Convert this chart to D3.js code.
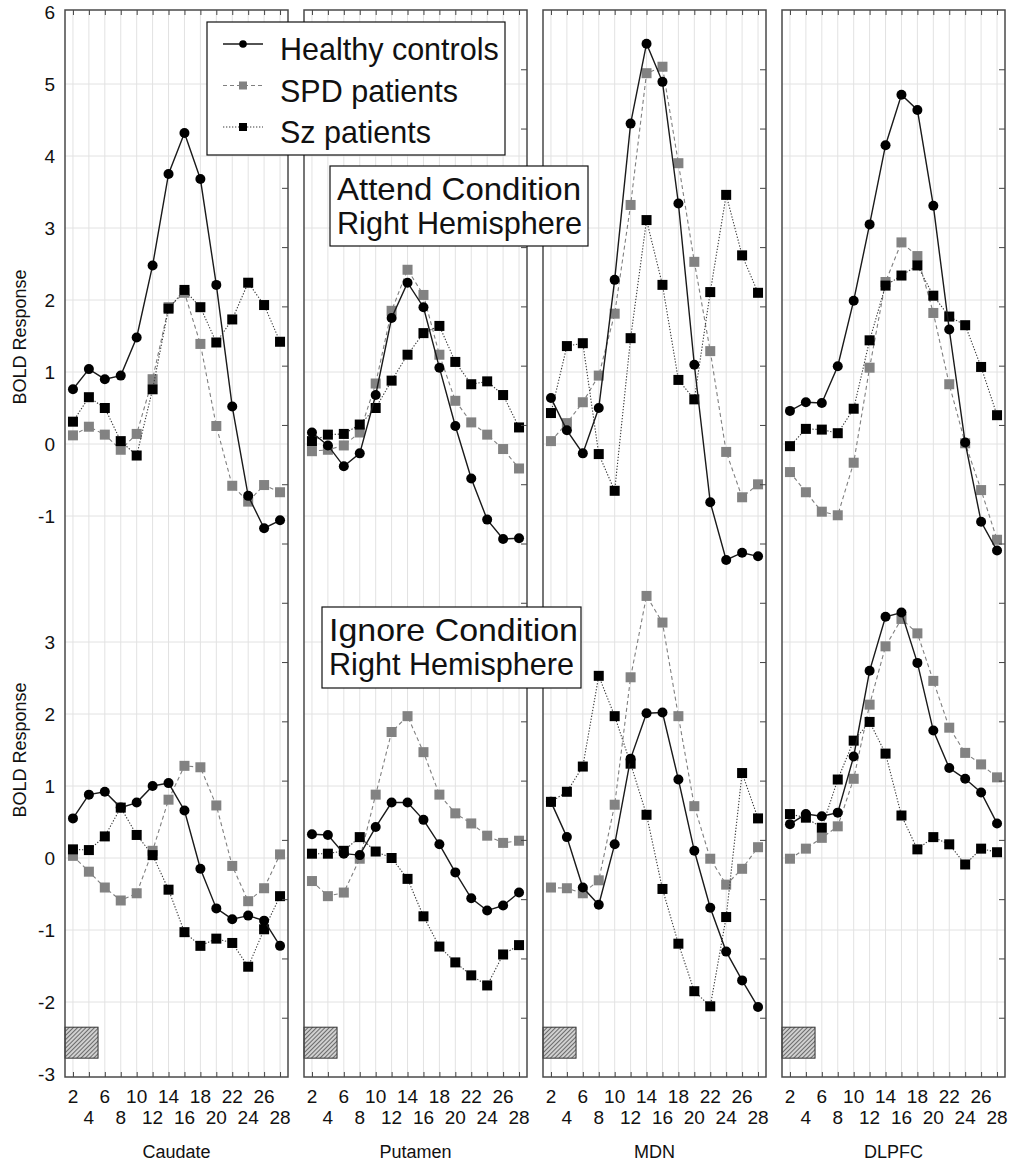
<!DOCTYPE html>
<html>
<head>
<meta charset="utf-8">
<script src="https://cdn.jsdelivr.net/npm/d3@7"></script>
<style>
  body { margin: 0; background: #fff; }
  text { font-family: "Liberation Sans", Arial, sans-serif; fill: #111; }
</style>
</head>
<body>
<script>
// tempos (s) e regiões
const tempos = [2, 4, 6, 8, 10, 12, 14, 16, 18, 20, 22, 24, 26, 28]
const regioes = ['Caudate', 'Putamen', 'MDN', 'DLPFC']
const grupos = ['Healthy controls', 'SPD patients', 'Sz patients']
const ticksTopo = [-1, 0, 1, 2, 3, 4, 5, 6]
const ticksBase = [-3, -2, -1, 0, 1, 2, 3]
const rotuloLinha1 = [2, 6, 10, 14, 18, 22, 26]
const rotuloLinha2 = [4, 8, 12, 16, 20, 24, 28]

// Attend condition
const caudateAttendHC  = [0.76, 1.04, 0.90, 0.95, 1.48, 2.48, 3.75, 4.32, 3.68, 2.21, 0.52, -0.72, -1.17, -1.06]
const caudateAttendSPD = [0.12, 0.24, 0.13, -0.08, 0.14, 0.90, 1.90, 2.10, 1.39, 0.25, -0.58, -0.80, -0.57, -0.67]
const caudateAttendSz  = [0.31, 0.65, 0.50, 0.04, -0.16, 0.76, 1.88, 2.14, 1.90, 1.41, 1.73, 2.24, 1.93, 1.42]
const putamenAttendHC  = [0.16, -0.02, -0.31, -0.13, 0.68, 1.75, 2.24, 1.90, 1.06, 0.25, -0.48, -1.05, -1.32, -1.31]
const putamenAttendSPD = [-0.10, -0.08, -0.02, 0.16, 0.84, 1.85, 2.42, 2.07, 1.24, 0.60, 0.30, 0.13, -0.07, -0.34]
const putamenAttendSz  = [0.04, 0.13, 0.14, 0.27, 0.50, 0.88, 1.24, 1.54, 1.64, 1.14, 0.83, 0.87, 0.68, 0.23]
const mdnAttendHC      = [0.64, 0.19, -0.13, 0.50, 2.28, 4.45, 5.56, 5.03, 3.34, 1.10, -0.81, -1.61, -1.51, -1.56]
const mdnAttendSPD     = [0.04, 0.29, 0.58, 0.95, 1.81, 3.32, 5.15, 5.24, 3.90, 2.53, 1.29, -0.11, -0.74, -0.56]
const mdnAttendSz      = [0.43, 1.36, 1.40, -0.14, -0.65, 1.47, 3.11, 2.21, 0.89, 0.62, 2.11, 3.46, 2.62, 2.10]
const dlpfcAttendHC    = [0.46, 0.58, 0.57, 1.08, 1.99, 3.05, 4.15, 4.85, 4.64, 3.31, 1.59, 0.02, -1.08, -1.48]
const dlpfcAttendSPD   = [-0.39, -0.67, -0.94, -0.99, -0.26, 1.06, 2.25, 2.80, 2.61, 1.82, 0.83, 0.01, -0.64, -1.33]
const dlpfcAttendSz    = [-0.03, 0.21, 0.20, 0.15, 0.49, 1.44, 2.20, 2.34, 2.48, 2.06, 1.77, 1.65, 1.07, 0.40]

// Ignore condition
const caudateIgnoreHC  = [0.55, 0.88, 0.92, 0.70, 0.77, 1.00, 1.04, 0.66, -0.15, -0.70, -0.85, -0.80, -0.87, -1.22]
const caudateIgnoreSPD = [0.03, -0.19, -0.41, -0.59, -0.49, 0.10, 0.81, 1.28, 1.26, 0.73, -0.11, -0.60, -0.42, 0.05]
const caudateIgnoreSz  = [0.12, 0.11, 0.30, 0.70, 0.32, 0.04, -0.44, -1.03, -1.22, -1.12, -1.18, -1.51, -0.99, -0.53]
const putamenIgnoreHC  = [0.33, 0.32, 0.06, 0.04, 0.43, 0.77, 0.77, 0.53, 0.19, -0.20, -0.56, -0.73, -0.66, -0.48]
const putamenIgnoreSPD = [-0.32, -0.53, -0.48, -0.01, 0.88, 1.75, 1.97, 1.47, 0.88, 0.62, 0.48, 0.31, 0.21, 0.24]
const putamenIgnoreSz  = [0.06, 0.06, 0.10, 0.29, 0.09, 0.00, -0.29, -0.81, -1.23, -1.45, -1.63, -1.77, -1.34, -1.21]
const mdnIgnoreHC      = [0.78, 0.29, -0.41, -0.65, 0.19, 1.38, 2.01, 2.02, 1.09, 0.10, -0.69, -1.30, -1.70, -2.07]
const mdnIgnoreSPD     = [-0.41, -0.42, -0.49, -0.31, 0.74, 2.51, 3.64, 3.27, 1.97, 0.72, -0.01, -0.37, -0.15, 0.15]
const mdnIgnoreSz      = [0.78, 0.92, 1.27, 2.53, 1.97, 1.31, 0.60, -0.43, -1.19, -1.85, -2.06, -0.82, 1.18, 0.55]
const dlpfcIgnoreHC    = [0.47, 0.61, 0.58, 0.63, 1.41, 2.60, 3.35, 3.41, 2.71, 1.77, 1.25, 1.10, 0.91, 0.48]
const dlpfcIgnoreSPD   = [-0.01, 0.13, 0.28, 0.44, 1.10, 2.13, 2.94, 3.32, 3.12, 2.46, 1.81, 1.46, 1.30, 1.12]
const dlpfcIgnoreSz    = [0.61, 0.56, 0.42, 1.09, 1.63, 1.89, 1.45, 0.59, 0.12, 0.29, 0.19, -0.09, 0.13, 0.08]

const attend = [
  [caudateAttendHC, caudateAttendSPD, caudateAttendSz],
  [putamenAttendHC, putamenAttendSPD, putamenAttendSz],
  [mdnAttendHC, mdnAttendSPD, mdnAttendSz],
  [dlpfcAttendHC, dlpfcAttendSPD, dlpfcAttendSz]
]
const ignore = [
  [caudateIgnoreHC, caudateIgnoreSPD, caudateIgnoreSz],
  [putamenIgnoreHC, putamenIgnoreSPD, putamenIgnoreSz],
  [mdnIgnoreHC, mdnIgnoreSPD, mdnIgnoreSz],
  [dlpfcIgnoreHC, dlpfcIgnoreSPD, dlpfcIgnoreSz]
]

// barra do estímulo (tempo, resposta na escala de baixo)
const estimulo = {t0: 1, t1: 5.15, v0: -2.35, v1: -2.78}

// layout
const W = 1011, H = 1165
const esquerda0 = 65, passo = 239, larguraPainel = 223
const topo = 10, base = 1077

const estilos = [
  {linha: '#1a1a1a', largura: 1.4, tracejado: null, forma: 'circulo', cor: '#000'},
  {linha: '#808080', largura: 1.1, tracejado: '4,3', forma: 'quadrado', cor: '#828282'},
  {linha: '#3a3a3a', largura: 1.1, tracejado: '1.3,1.7', forma: 'quadrado', cor: '#000'}
]

const svg = d3.select('body').append('svg')
  .attr('width', W).attr('height', H)

const defs = svg.append('defs')
const padrao = defs.append('pattern')
  .attr('id', 'hachura')
  .attr('patternUnits', 'userSpaceOnUse')
  .attr('width', 3).attr('height', 3)
  .attr('patternTransform', 'rotate(45)')
padrao.append('rect').attr('width', 3).attr('height', 3).attr('fill', '#d0d0d0')
padrao.append('line').attr('x1', 0).attr('y1', 0).attr('x2', 0).attr('y2', 3)
  .attr('stroke', '#333').attr('stroke-width', 1.3)

const x = d3.scaleLinear().domain([1, 29]).range([0, larguraPainel])
const yTopo = d3.scaleLinear().domain([0, 6]).range([444, 12])
const yBase = d3.scaleLinear().domain([0, 3]).range([858, 642])
const yDireita = d3.scaleLinear().domain([0, 18]).range([topo, base])

function desenhaSerie (g, valores, escalaY, est) {
  const dados = tempos.map((t, i) => ({t: t, v: valores[i]}))
  const linha = d3.line().x(d => x(d.t)).y(d => escalaY(d.v))
  g.append('path')
    .attr('d', linha(dados))
    .attr('fill', 'none')
    .attr('stroke', est.linha)
    .attr('stroke-width', est.largura)
    .attr('stroke-dasharray', est.tracejado)
  if (est.forma === 'circulo') {
    g.selectAll(null).data(dados).enter().append('circle')
      .attr('cx', d => x(d.t)).attr('cy', d => escalaY(d.v))
      .attr('r', 5).attr('fill', est.cor)
  } else {
    g.selectAll(null).data(dados).enter().append('rect')
      .attr('x', d => x(d.t) - 5).attr('y', d => escalaY(d.v) - 5)
      .attr('width', 10).attr('height', 10).attr('fill', est.cor)
  }
}

regioes.forEach(function (regiao, p) {
  const g = svg.append('g')
    .attr('transform', 'translate(' + (esquerda0 + p * passo) + ',0)')

  // grade vertical
  g.selectAll(null).data(tempos).enter().append('line')
    .attr('x1', d => x(d)).attr('x2', d => x(d))
    .attr('y1', topo).attr('y2', base)
    .attr('stroke', '#e2e2e2').attr('stroke-width', 1)

  // grade horizontal
  g.selectAll(null).data(ticksTopo.filter(d => d < 6)).enter().append('line')
    .attr('x1', 0).attr('x2', larguraPainel)
    .attr('y1', d => yTopo(d)).attr('y2', d => yTopo(d))
    .attr('stroke', '#e2e2e2')
  g.selectAll(null).data(ticksBase.filter(d => d > -3)).enter().append('line')
    .attr('x1', 0).attr('x2', larguraPainel)
    .attr('y1', d => yBase(d)).attr('y2', d => yBase(d))
    .attr('stroke', '#e2e2e2')

  // barra hachurada do estímulo
  g.append('rect')
    .attr('x', x(estimulo.t0)).attr('y', yBase(estimulo.v0))
    .attr('width', x(estimulo.t1) - x(estimulo.t0))
    .attr('height', yBase(estimulo.v1) - yBase(estimulo.v0))
    .attr('fill', 'url(#hachura)').attr('stroke', '#333').attr('stroke-width', 1)

  // séries: SPD, Sz, depois controles
  ;[1, 2, 0].forEach(function (s) {
    desenhaSerie(g, attend[p][s], yTopo, estilos[s])
    desenhaSerie(g, ignore[p][s], yBase, estilos[s])
  })

  // eixos sem rótulos (marcas internas)
  const eixoTopo = d3.axisTop(x).tickValues(tempos).tickSize(-5).tickFormat('')
  const eixoBaseMarcas = d3.axisBottom(x).tickValues(tempos).tickSize(-5).tickFormat('')
  const eixoDireita = d3.axisRight(yDireita).tickValues(d3.range(1, 18)).tickSize(-6).tickFormat('')

  g.append('g').attr('transform', 'translate(0,' + topo + ')').call(eixoTopo)
  g.append('g').attr('transform', 'translate(0,' + base + ')').call(eixoBaseMarcas)
  g.append('g').attr('transform', 'translate(' + larguraPainel + ',0)').call(eixoDireita)
  g.selectAll('.domain').remove()
  g.selectAll('.tick line').attr('stroke', '#444').attr('stroke-width', 1)

  // moldura
  g.append('rect')
    .attr('x', 0).attr('y', topo)
    .attr('width', larguraPainel).attr('height', base - topo)
    .attr('fill', 'none').attr('stroke', '#4a4a4a').attr('stroke-width', 1.5)

  // rótulos do eixo x em duas linhas
  g.selectAll(null).data(rotuloLinha1).enter().append('text')
    .attr('x', d => x(d)).attr('y', 1103)
    .attr('text-anchor', 'middle').attr('font-size', 19)
    .text(d => d)
  g.selectAll(null).data(rotuloLinha2).enter().append('text')
    .attr('x', d => x(d)).attr('y', 1124)
    .attr('text-anchor', 'middle').attr('font-size', 19)
    .text(d => d)

  g.append('text')
    .attr('x', larguraPainel / 2).attr('y', 1158)
    .attr('text-anchor', 'middle').attr('font-size', 18)
    .text(regiao)
})

// eixo y à esquerda
const eixoEsqTopo = d3.axisLeft(yTopo).tickValues(ticksTopo).tickSize(0).tickPadding(10)
const eixoEsqBase = d3.axisLeft(yBase).tickValues(ticksBase).tickSize(0).tickPadding(10)
const gEsq = svg.append('g').attr('transform', 'translate(' + esquerda0 + ',0)')
gEsq.append('g').call(eixoEsqTopo)
gEsq.append('g').call(eixoEsqBase)
gEsq.selectAll('.domain').remove()
gEsq.selectAll('.tick text')
  .attr('font-size', 19)
  .attr('font-family', '"Liberation Sans", Arial, sans-serif')
  .attr('fill', '#111')
  .text(d => d < 0 ? '-' + Math.abs(d) : d)

svg.append('text')
  .attr('transform', 'translate(26,' + 337 + ') rotate(-90)')
  .attr('text-anchor', 'middle').attr('font-size', 18)
  .text('BOLD Response')
svg.append('text')
  .attr('transform', 'translate(26,' + 750 + ') rotate(-90)')
  .attr('text-anchor', 'middle').attr('font-size', 18)
  .text('BOLD Response')

// legenda
const legenda = svg.append('g')
legenda.append('rect')
  .attr('x', 207).attr('y', 22).attr('width', 298).attr('height', 133)
  .attr('fill', '#fff').attr('stroke', '#111').attr('stroke-width', 1.2)
grupos.forEach(function (nome, i) {
  const est = estilos[i]
  const yb = 60 + i * 41.5
  legenda.append('line')
    .attr('x1', 223).attr('x2', 263).attr('y1', yb - 16).attr('y2', yb - 16)
    .attr('stroke', est.linha).attr('stroke-width', est.largura)
    .attr('stroke-dasharray', est.tracejado)
  if (est.forma === 'circulo') {
    legenda.append('circle').attr('cx', 243).attr('cy', yb - 16).attr('r', 3.8).attr('fill', est.cor)
  } else {
    legenda.append('rect').attr('x', 239).attr('y', yb - 20).attr('width', 8).attr('height', 8).attr('fill', est.cor)
  }
  legenda.append('text')
    .attr('x', 280).attr('y', yb).attr('font-size', 30.5)
    .text(nome)
})

// caixas das condições
function caixa (x0, y0, w, h, linhas, comprimentos, b1) {
  const c = svg.append('g')
  c.append('rect')
    .attr('x', x0).attr('y', y0).attr('width', w).attr('height', h)
    .attr('fill', '#fff').attr('stroke', '#111').attr('stroke-width', 1.2)
  linhas.forEach(function (t, i) {
    c.append('text')
      .attr('x', x0 + 7).attr('y', b1 + i * 34).attr('font-size', 31.5)
      .attr('textLength', comprimentos[i]).attr('lengthAdjust', 'spacingAndGlyphs')
      .text(t)
  })
}
caixa(330, 166, 258, 80, ['Attend Condition', 'Right Hemisphere'], [244, 245], 200)
caixa(322, 607, 259, 81, ['Ignore Condition', 'Right Hemisphere'], [249, 245], 641)
</script>
</body>
</html>
